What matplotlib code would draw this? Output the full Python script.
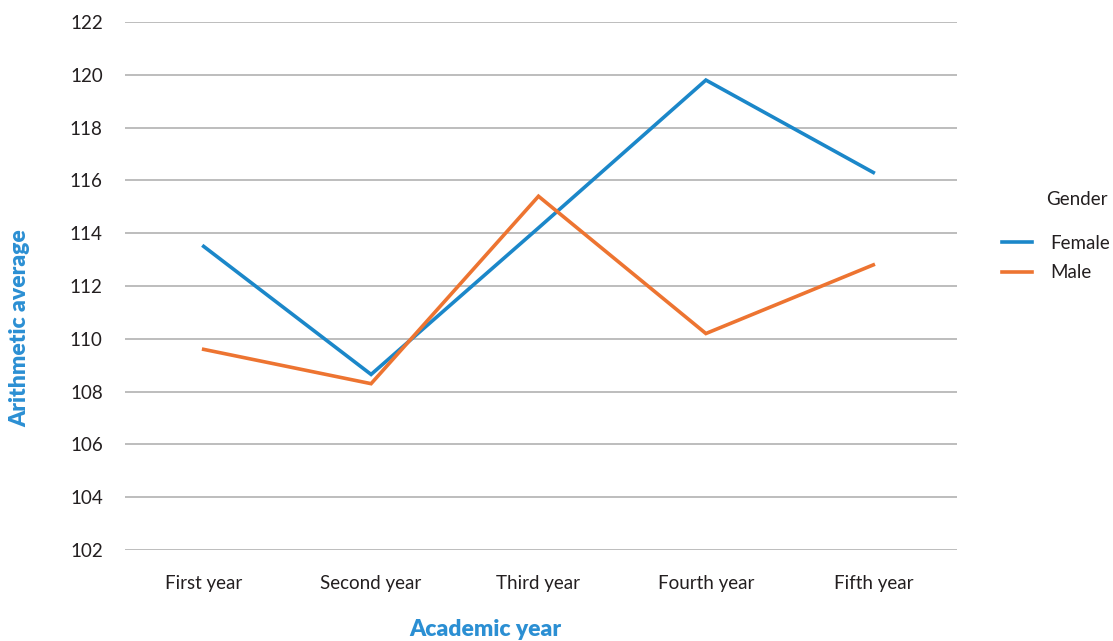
import matplotlib.pyplot as plt

plt.rcParams['font.family'] = ['Lato', 'DejaVu Sans']

years = ['First year', 'Second year', 'Third year', 'Fourth year', 'Fifth year']
female = [113.5, 108.65, 114.2, 119.8, 116.3]
male = [109.6, 108.3, 115.4, 110.2, 112.8]
yticks = list(range(102, 123, 2))

blue = '#1b87c9'
orange = '#ed7431'
label_blue = '#2b8fd3'
text_col = '#231f20'

fig = plt.figure(figsize=(11.13, 6.41), dpi=100)
ax = fig.add_axes([125/1113, 1 - 550/641, 832/1113, 528/641])

x = range(len(years))
ax.plot(x, female, color=blue, lw=2.6, label='Female', solid_joinstyle='miter')
ax.plot(x, male, color=orange, lw=2.6, label='Male', solid_joinstyle='miter')

ax.set_xlim(-0.47, 4.5)
ax.set_ylim(102, 122)
ax.set_yticks(yticks)
ax.set_xticks(list(x))
ax.set_xticklabels(years)
ax.grid(axis='y', color='#bdbdbd', lw=1.4)
ax.set_axisbelow(True)
for s in ax.spines.values():
    s.set_visible(False)
ax.tick_params(length=0, labelsize=13.5, colors=text_col)
ax.tick_params(axis='y', pad=16)
ax.tick_params(axis='x', pad=18)

ax.set_ylabel('Arithmetic average', color=label_blue, fontsize=16.5, fontweight='heavy')
ax.yaxis.set_label_coords(-0.114, 0.42)
ax.set_xlabel('Academic year', color=label_blue, fontsize=16.5, fontweight='heavy')
ax.xaxis.set_label_coords(0.433, -0.131)

# legend title drawn separately for a wider gap above the entries
fig.text(1108/1113, 1 - 200/641, 'Gender', ha='right', va='center', fontsize=13.5, color=text_col)
leg = fig.legend(loc='upper right', bbox_to_anchor=(1110/1113, 1 - 235/641), frameon=False,
                 fontsize=13.5, handlelength=1.6, handletextpad=1.0,
                 labelspacing=0.65, borderaxespad=0, borderpad=0)
for t in leg.get_texts():
    t.set_color(text_col)

fig.savefig('out.png', dpi=100)
